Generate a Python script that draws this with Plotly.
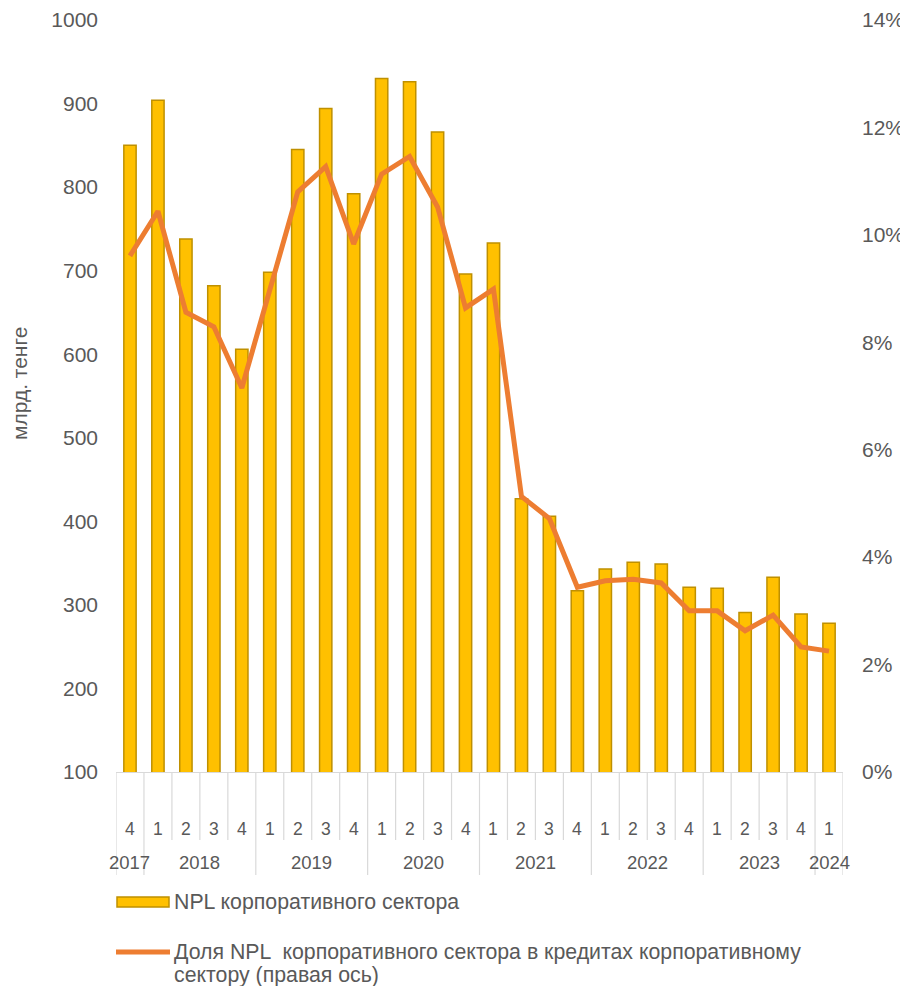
import plotly.graph_objects as go

# ---- data ----
years = [2017, 2018, 2018, 2018, 2018, 2019, 2019, 2019, 2019, 2020, 2020, 2020, 2020,
         2021, 2021, 2021, 2021, 2022, 2022, 2022, 2022, 2023, 2023, 2023, 2023, 2024]
quarters = [4, 1, 2, 3, 4, 1, 2, 3, 4, 1, 2, 3, 4, 1, 2, 3, 4, 1, 2, 3, 4, 1, 2, 3, 4, 1]
npl_bln = [850, 904, 738, 682, 606, 698, 845, 894, 792, 930, 926, 866, 696,
           733, 427, 406, 317, 343, 351, 349, 321, 320, 291, 333, 289, 278]
npl_share_pct = [9.61, 10.44, 8.56, 8.29, 7.15, 8.97, 10.80, 11.27, 9.83, 11.13, 11.46, 10.52, 8.64,
                 8.99, 5.13, 4.72, 3.44, 3.56, 3.59, 3.52, 3.00, 3.00, 2.63, 2.92, 2.33, 2.25]
left_ticks = list(range(100, 1001, 100))
right_ticks = [0, 0.02, 0.04, 0.06, 0.08, 0.10, 0.12, 0.14]
bar_name = "NPL корпоративного сектора"
line_name_1 = "Доля NPL  корпоративного сектора в кредитах корпоративному"
line_name_2 = "сектору (правая ось)"
y_title = "млрд. тенге"

categories = [f"{y}-Q{q}" for y, q in zip(years, quarters)]
n = len(categories)

FONT = "Liberation Sans, Arial, sans-serif"
GRAY = "#595959"
SEP = "#D9D9D9"
BAR_FILL = "#FFC000"
BAR_EDGE = "#BF9000"
LINE_C = "#ED7D31"

fig = go.Figure()
fig.add_trace(go.Bar(x=categories, y=npl_bln, name=bar_name,
                     marker=dict(color=BAR_FILL, line=dict(color=BAR_EDGE, width=1.5)),
                     showlegend=False, yaxis="y"))
fig.add_trace(go.Scatter(x=categories, y=[v / 100 for v in npl_share_pct],
                         name=line_name_1 + " " + line_name_2,
                         mode="lines", line=dict(color=LINE_C, width=5),
                         showlegend=False, yaxis="y2"))

shapes = []
annotations = []

# plot area in window pixels: x 116..843, y 20..772
def px_x(p):
    return (p - 116) / 727

def px_y(p):
    return (772 - p) / 752

# quarter separators (short) and year separators (long)
q_bottom = px_y(840)
y_bottom = px_y(875)
for i in range(n + 1):
    xb = i - 0.5
    is_year_boundary = (i == 0 or i == n or years[i] != years[i - 1])
    shapes.append(dict(type="line", xref="x", yref="paper", x0=xb, x1=xb,
                       y0=0, y1=y_bottom if is_year_boundary else q_bottom,
                       line=dict(color=SEP, width=1.2), layer="below"))

# quarter labels
for c, q in zip(categories, quarters):
    annotations.append(dict(x=c, y=px_y(829), xref="x", yref="paper", text=str(q),
                            showarrow=False, xanchor="center", yanchor="middle",
                            font=dict(family=FONT, size=17.5, color=GRAY)))
# year labels centred on their groups
uniq_years = []
for y in years:
    if y not in uniq_years:
        uniq_years.append(y)
for y in uniq_years:
    idx = [i for i, yy in enumerate(years) if yy == y]
    annotations.append(dict(x=sum(idx) / len(idx), y=px_y(862), xref="x", yref="paper",
                            text=str(y), showarrow=False, xanchor="center", yanchor="middle",
                            font=dict(family=FONT, size=18.5, color=GRAY)))

# custom legend
LEG = 21.3
shapes.append(dict(type="rect", xref="paper", yref="paper",
                   x0=px_x(117), x1=px_x(169), y0=px_y(907), y1=px_y(897),
                   fillcolor=BAR_FILL, line=dict(color=BAR_EDGE, width=1.5)))
annotations.append(dict(x=px_x(172), y=px_y(902), xref="paper", yref="paper", text=bar_name,
                        showarrow=False, xanchor="left", yanchor="middle", align="left",
                        font=dict(family=FONT, size=LEG, color=GRAY)))
shapes.append(dict(type="line", xref="paper", yref="paper",
                   x0=px_x(116), x1=px_x(170), y0=px_y(952), y1=px_y(952),
                   line=dict(color=LINE_C, width=5)))
annotations.append(dict(x=px_x(172), y=px_y(952), xref="paper", yref="paper", text=line_name_1,
                        showarrow=False, xanchor="left", yanchor="middle", align="left",
                        font=dict(family=FONT, size=LEG, color=GRAY)))
annotations.append(dict(x=px_x(172), y=px_y(975), xref="paper", yref="paper", text=line_name_2,
                        showarrow=False, xanchor="left", yanchor="middle", align="left",
                        font=dict(family=FONT, size=LEG, color=GRAY)))

# y-axis title
annotations.append(dict(x=px_x(19), y=px_y(384), xref="paper", yref="paper", text=y_title,
                        showarrow=False, textangle=-90, xanchor="center", yanchor="middle",
                        font=dict(family=FONT, size=21, color=GRAY)))

# the page body adds an 8px offset, so the figure is placed 8px in from the window corner
fig.update_layout(
    width=900, height=978,
    margin=dict(l=108, r=65, t=12, b=214, autoexpand=False),
    paper_bgcolor="white", plot_bgcolor="white",
    bargap=0.56,
    font=dict(family=FONT, color=GRAY),
    xaxis=dict(type="category", range=[-0.5, n - 0.5], showticklabels=False,
               showline=True, linecolor=SEP, linewidth=1.2, showgrid=False,
               zeroline=False, ticks="", automargin=False),
    yaxis=dict(range=[100, 1000], tickvals=left_ticks, showgrid=False, zeroline=False,
               showline=False, ticks="", tickfont=dict(family=FONT, size=21, color=GRAY),
               ticklabelstandoff=17, automargin=False),
    yaxis2=dict(range=[0, 0.14], tickvals=right_ticks, tickformat=".0%", overlaying="y",
                side="right", showgrid=False, zeroline=False, showline=False, ticks="",
                tickfont=dict(family=FONT, size=21, color=GRAY), ticklabelstandoff=18,
                automargin=False),
    shapes=shapes,
    annotations=annotations,
)

fig.write_html("out.html")
